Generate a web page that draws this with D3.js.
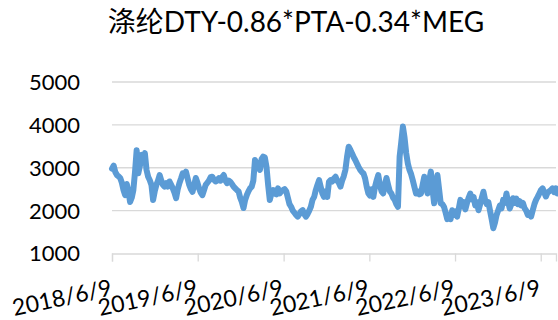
<!DOCTYPE html>
<html>
<head>
<meta charset="utf-8">
<script src="https://cdn.jsdelivr.net/npm/d3@7/dist/d3.min.js"></script>
<style>
  html, body { margin: 0; padding: 0; background: #fff; }
  svg { display: block; }
  text { font-family: Lato, "Noto Sans CJK SC", sans-serif; fill: #000; }
</style>
</head>
<body>
<svg id="chart" width="558" height="320"></svg>
<script>
// Spread series: DTY - 0.86*PTA - 0.34*MEG, weekly readings from 2018/6/9
const chartTitle = "涤纶DTY-0.86*PTA-0.34*MEG";
const seriesStart = "2018-06-09";
const spreadValues = [
  2980, 3050, 2900, 2830, 2800, 2760, 2650, 2480, 2360, 2620,
  2450, 2200, 2300, 2480, 2900, 3410, 2870, 3050, 3300, 3200,
  3340, 2950, 2790, 2710, 2600, 2250, 2450, 2600, 2700, 2830,
  2700, 2600, 2560, 2640, 2560, 2680, 2600, 2520, 2420, 2290,
  2500, 2640, 2750, 2870, 2830, 2910, 2750, 2600, 2500, 2440,
  2600, 2760, 2650, 2520, 2420, 2360, 2480, 2600, 2650, 2700,
  2780, 2790, 2720, 2680, 2700, 2760, 2700, 2780, 2830, 2700,
  2640, 2700, 2670, 2620, 2560, 2520, 2480, 2450, 2300, 2200,
  2060, 2250, 2360, 2450, 2520, 2560, 2700, 3180, 3100, 3060,
  2950, 3200, 3260, 3240, 3020, 2600, 2250, 2400, 2480, 2400,
  2380, 2520, 2400, 2450, 2480, 2500, 2450, 2300, 2150, 2090,
  2000, 1950, 1900, 1860, 1920, 1980, 2010, 1920, 1860, 1920,
  2000, 2090, 2250, 2320, 2480, 2600, 2710, 2550, 2400, 2320,
  2450, 2320, 2670, 2710, 2680, 2750, 2790, 2700, 2650, 2560,
  2700, 2800, 2950, 3250, 3490, 3420, 3340, 3250, 3180, 3100,
  3020, 2950, 2900, 2870, 2750, 2550, 2400, 2350, 2500, 2320,
  2550, 2700, 2830, 2600, 2450, 2400, 2600, 2760, 2600, 2450,
  2400, 2300, 2250, 2150, 2090, 3260, 3600, 3960, 3700, 3340,
  3100, 2950, 2850, 2710, 2550, 2400, 2450, 2380, 2400, 2600,
  2790, 2600, 2400, 2700, 2910, 2500, 2170, 2500, 2830, 2500,
  2170, 2150, 2090, 1950, 1800, 1900, 1800, 2010, 1900, 1980,
  1860, 2050, 2250, 2100, 2200, 2030, 2180, 2300, 2400, 2260,
  2320, 2120, 2200, 2010, 2150, 2300, 2440, 2250, 2150, 2200,
  2000, 1800, 1590, 1720, 1900, 2010, 2120, 2050, 2250, 2180,
  2400, 2200, 2050, 2150, 2290, 2180, 2280, 2150, 2220, 2120,
  2180, 2060, 2000, 1900, 1940, 1860, 2010, 2150, 2250, 2320,
  2400, 2480, 2520, 2420, 2330, 2420, 2450, 2480, 2520, 2430,
  2520, 2400
];
const yTicks = [1000, 2000, 3000, 4000, 5000];
const xTickLabels = ["2018/6/9", "2019/6/9", "2020/6/9", "2021/6/9", "2022/6/9", "2023/6/9"];
const axisEnd = "2023-08-13";

const parse = d3.timeParse("%Y-%m-%d");
const parseLabel = d3.timeParse("%Y/%m/%d");
const t0 = parse(seriesStart);
const data = spreadValues.map((v, i) => ({ date: d3.timeDay.offset(t0, i * 7), value: v }));

const svg = d3.select("#chart");
const plot = { left: 112, right: 556, top: 82, bottom: 253.5 };

const x = d3.scaleTime()
  .domain([parseLabel(xTickLabels[0]), parse(axisEnd)])
  .range([plot.left, plot.right]);
const y = d3.scaleLinear()
  .domain([1000, 5000])
  .range([plot.bottom, plot.top]);

// title
svg.append("text")
  .attr("x", 296)
  .attr("y", 32)
  .attr("text-anchor", "middle")
  .style("font-size", "28px")
  .text(chartTitle);

// horizontal gridlines
svg.append("g")
  .selectAll("line")
  .data(yTicks.filter(d => d > 1000))
  .join("line")
  .attr("x1", plot.left)
  .attr("x2", plot.right)
  .attr("y1", d => y(d))
  .attr("y2", d => y(d))
  .attr("stroke", "#D9D9D9")
  .attr("stroke-width", 1.3);

// y axis labels
svg.append("g")
  .selectAll("text")
  .data(yTicks)
  .join("text")
  .attr("x", 80)
  .attr("y", d => y(d))
  .attr("dy", "0.36em")
  .attr("text-anchor", "end")
  .style("font-size", "22px")
  .text(d => d);

// x axis with year ticks
const xTickDates = xTickLabels.map(s => parseLabel(s));
const xAxis = d3.axisBottom(x)
  .tickValues(xTickDates)
  .tickSize(8)
  .tickFormat("");
const gx = svg.append("g")
  .attr("transform", `translate(0,${plot.bottom})`)
  .call(xAxis);
gx.select(".domain").attr("stroke", "#D9D9D9").attr("stroke-width", 1.3);
gx.selectAll(".tick line").attr("stroke", "#D9D9D9").attr("stroke-width", 1.3);

// rotated date labels, right end at each tick
svg.append("g")
  .selectAll("text")
  .data(xTickDates)
  .join("text")
  .attr("transform", d => `translate(${x(d) + 1},295) rotate(-12)`)
  .attr("text-anchor", "end")
  .style("font-size", "23px")
  .text((d, i) => xTickLabels[i]);

// spread line
const line = d3.line()
  .x(d => x(d.date))
  .y(d => y(d.value))
  .curve(d3.curveLinear);

svg.append("path")
  .datum(data)
  .attr("fill", "none")
  .attr("stroke", "#5B9BD5")
  .attr("stroke-width", 6)
  .attr("stroke-linejoin", "round")
  .attr("stroke-linecap", "round")
  .attr("d", line);
</script>
</body>
</html>
